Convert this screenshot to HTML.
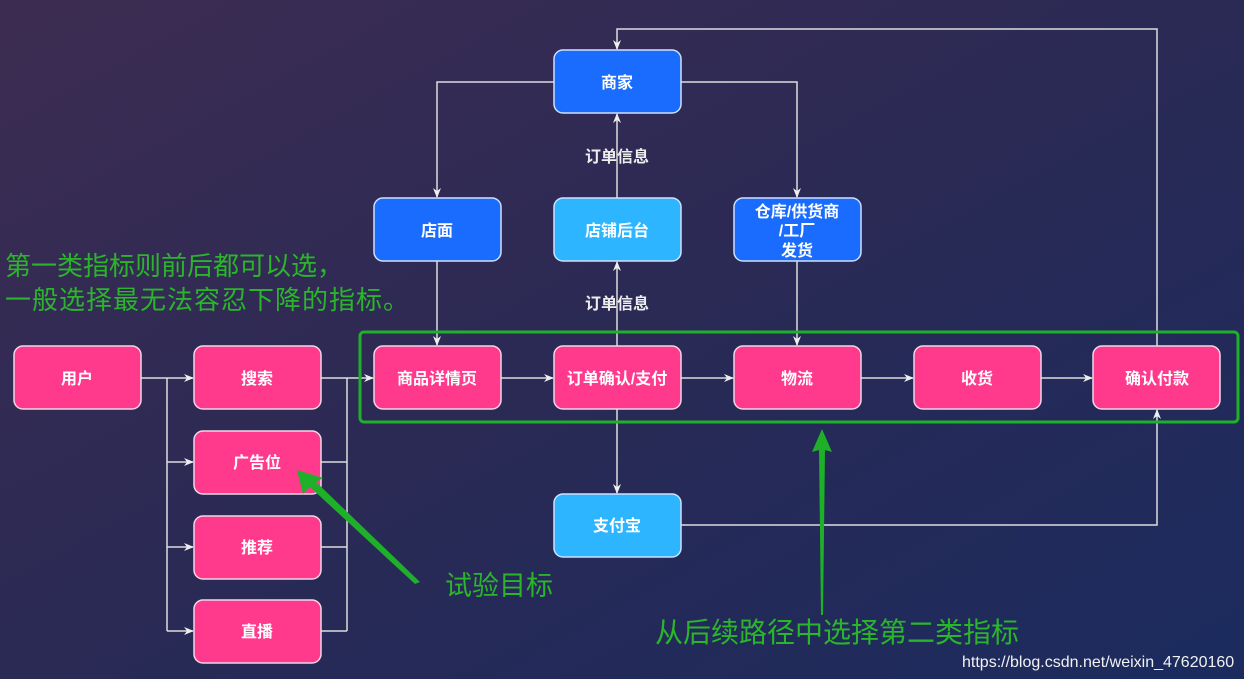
<!DOCTYPE html>
<html><head><meta charset="utf-8"><style>
html,body{margin:0;padding:0;width:1244px;height:679px;overflow:hidden}
svg{display:block}
text{font-family:"Liberation Sans","Noto Sans CJK SC",sans-serif}
</style></head><body>
<svg width="1244" height="679" viewBox="0 0 1244 679" xmlns="http://www.w3.org/2000/svg">
<defs>
<linearGradient id="bg" x1="0" y1="0" x2="1" y2="1">
<stop offset="0" stop-color="#3d2c52"/><stop offset="0.5" stop-color="#2a2a55"/><stop offset="1" stop-color="#1b2b5e"/>
</linearGradient>
<marker id="a" markerWidth="10" markerHeight="10" refX="9" refY="5" orient="auto" markerUnits="userSpaceOnUse">
<path d="M0,1 L10,5 L0,9 L3,5 z" fill="#eee"/></marker>
</defs>
<rect width="1244" height="679" fill="url(#bg)"/>
<g fill="none" stroke="#ddd" stroke-width="1.5">
<path d="M141,378 H193" marker-end="url(#a)"/>
<path d="M167,378 V631"/>
<path d="M167,462 H193" marker-end="url(#a)"/>
<path d="M167,547 H193" marker-end="url(#a)"/>
<path d="M167,631 H193" marker-end="url(#a)"/>
<path d="M321,378 H373" marker-end="url(#a)"/>
<path d="M347,378 V631 M321,462 H347 M321,547 H347 M321,631 H347"/>
<path d="M501,378 H553" marker-end="url(#a)"/>
<path d="M681,378 H733" marker-end="url(#a)"/>
<path d="M861,378 H913" marker-end="url(#a)"/>
<path d="M1041,378 H1092" marker-end="url(#a)"/>
<path d="M437,261 V345" marker-end="url(#a)"/>
<path d="M554,82 H437 V197" marker-end="url(#a)"/>
<path d="M681,82 H797 V197" marker-end="url(#a)"/>
<path d="M797,261 V345" marker-end="url(#a)"/>
<path d="M617,346 V262" marker-end="url(#a)"/>
<path d="M617,198 V114" marker-end="url(#a)"/>
<path d="M617,409 V493" marker-end="url(#a)"/>
<path d="M681,525 H1157 V410" marker-end="url(#a)"/>
<path d="M1157,346 V29 H617 V49" marker-end="url(#a)"/>
</g>
<g font-size="16" font-weight="bold" fill="#eee" text-anchor="middle">
<text x="617" y="162">订单信息</text>
<text x="617" y="309">订单信息</text>
</g>
<g stroke="#f0d8e8" stroke-width="1.5">
<rect x="14" y="346" width="127" height="63" rx="9" fill="#ff3a8c"/>
<rect x="194" y="346" width="127" height="63" rx="9" fill="#ff3a8c"/>
<rect x="194" y="431" width="127" height="63" rx="9" fill="#ff3a8c"/>
<rect x="194" y="516" width="127" height="63" rx="9" fill="#ff3a8c"/>
<rect x="194" y="600" width="127" height="63" rx="9" fill="#ff3a8c"/>
<rect x="374" y="346" width="127" height="63" rx="9" fill="#ff3a8c"/>
<rect x="554" y="346" width="127" height="63" rx="9" fill="#ff3a8c"/>
<rect x="734" y="346" width="127" height="63" rx="9" fill="#ff3a8c"/>
<rect x="914" y="346" width="127" height="63" rx="9" fill="#ff3a8c"/>
<rect x="1093" y="346" width="127" height="63" rx="9" fill="#ff3a8c"/>
</g>
<g stroke="#cfe0ff" stroke-width="1.5">
<rect x="554" y="50" width="127" height="63" rx="9" fill="#1a6cff"/>
<rect x="374" y="198" width="127" height="63" rx="9" fill="#1a6cff"/>
<rect x="554" y="198" width="127" height="63" rx="9" fill="#2db5ff"/>
<rect x="734" y="198" width="127" height="63" rx="9" fill="#1a6cff"/>
<rect x="554" y="494" width="127" height="63" rx="9" fill="#2db5ff"/>
</g>
<g font-size="16" font-weight="bold" fill="#fff" text-anchor="middle">
<text x="77" y="384">用户</text>
<text x="257" y="384">搜索</text>
<text x="257" y="468">广告位</text>
<text x="257" y="553">推荐</text>
<text x="257" y="637">直播</text>
<text x="437" y="384">商品详情页</text>
<text x="617" y="384">订单确认/支付</text>
<text x="797" y="384">物流</text>
<text x="977" y="384">收货</text>
<text x="1157" y="384">确认付款</text>
<text x="617" y="88">商家</text>
<text x="437" y="236">店面</text>
<text x="617" y="236">店铺后台</text>
<text x="797" y="217">仓库/供货商</text>
<text x="797" y="236">/工厂</text>
<text x="797" y="256">发货</text>
<text x="617" y="531">支付宝</text>
</g>
<rect x="360" y="332" width="878" height="90" rx="4" fill="none" stroke="#1fb02a" stroke-width="3"/>
<path d="M297,470 L323,478 L316,482 L420,582 L415,584 L310,487 L303,494 z" fill="#1fb02a"/>
<path d="M822,429 L832,452 L825,450 L823,615 L821,615 L819,450 L812,452 z" fill="#1fb02a"/>
<g fill="#2ab52a">
<text x="5" y="275" font-size="26">第一类指标则前后都可以选，</text>
<text x="5" y="309" font-size="26" letter-spacing="1">一般选择最无法容忍下降的指标。</text>
<text x="445" y="595" font-size="27">试验目标</text>
<text x="655" y="642" font-size="28">从后续路径中选择第二类指标</text>
</g>
<text x="962" y="667" font-size="16" fill="#f2f2f2">https://blog.csdn.net/weixin_47620160</text>
</svg>
</body></html>
